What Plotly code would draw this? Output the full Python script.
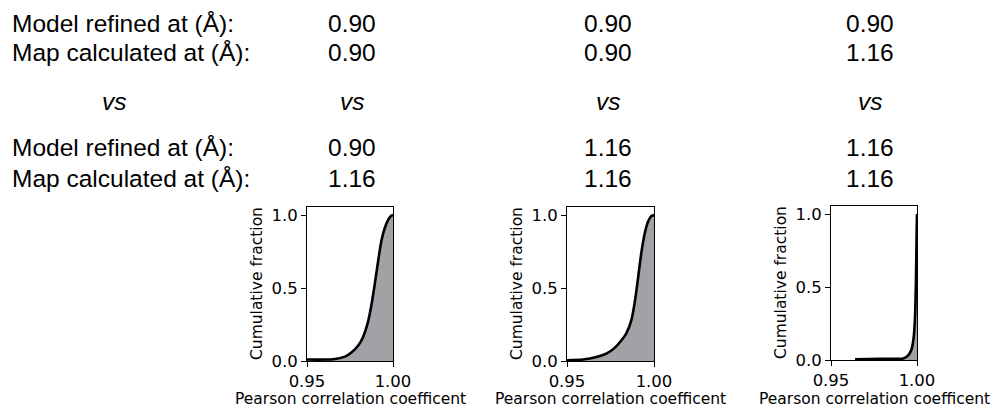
import plotly.graph_objects as go

W, H = 994, 408

# ---- data ----
row_labels = ["Model refined at (Å):", "Map calculated at (Å):", "vs",
              "Model refined at (Å):", "Map calculated at (Å):"]
col_model_a = ["0.90", "0.90", "0.90"]
col_map_a = ["0.90", "0.90", "1.16"]
col_model_b = ["0.90", "1.16", "1.16"]
col_map_b = ["1.16", "1.16", "1.16"]

p1_x = [0.950, 0.965, 0.972, 0.976, 0.980, 0.9826, 0.9855, 0.9874, 0.9893,
        0.9913, 0.9932, 0.9952, 0.9971, 0.9990, 1.000]
p1_y = [0.010, 0.012, 0.030, 0.060, 0.110, 0.165, 0.270, 0.380, 0.520,
        0.680, 0.820, 0.910, 0.965, 0.995, 1.000]

p2_x = [0.950, 0.9592, 0.9669, 0.9726, 0.9774, 0.9812, 0.9841, 0.9870, 0.9889,
        0.9908, 0.9927, 0.9946, 0.9966, 0.9985, 1.000]
p2_y = [0.005, 0.010, 0.027, 0.050, 0.090, 0.140, 0.190, 0.280, 0.400,
        0.565, 0.740, 0.870, 0.955, 0.993, 1.000]

p3_x = [0.964, 0.979, 0.992, 0.995, 0.9967, 0.998, 0.9988, 0.9994, 0.9998, 1.000]
p3_y = [0.005, 0.009, 0.011, 0.034, 0.068, 0.147, 0.280, 0.550, 0.890, 1.000]

panels = [(p1_x, p1_y), (p2_x, p2_y), (p3_x, p3_y)]

x_ticks = [0.95, 1.00]
x_ticktext = ["0.95", "1.00"]
y_ticks = [0.0, 0.5, 1.0]
y_ticktext = ["0.0", "0.5", "1.0"]
x_title = "Pearson correlation coefficent"
y_title = "Cumulative fraction"

# ---- layout geometry (pixels) ----
panel_px = [(307, 393, 207, 361), (567, 654, 207, 361), (831, 917, 206, 360)]
col_cx = [352, 608, 870]
row_cy = [23, 53, 101, 147, 178]

def fx(px):
    return px / W

def fy(py):
    return 1 - py / H

fig = go.Figure()
tick_font = dict(family="DejaVu Sans", size=16.5, color="black")
title_font = dict(family="DejaVu Sans", size=15.5, color="black")

for i, (xs, ys) in enumerate(panels):
    n = "" if i == 0 else str(i + 1)
    fig.add_trace(go.Scatter(
        x=xs, y=ys, mode="lines",
        line=dict(color="black", width=2.6, shape="spline", smoothing=0.6),
        fill="tozeroy", fillcolor="#a1a1a6",
        xaxis="x" + n, yaxis="y" + n, showlegend=False, hoverinfo="skip"))
    x0, x1, y0, y1 = panel_px[i]
    common = dict(showline=True, mirror=True, linecolor="black", linewidth=1,
                  ticks="outside", ticklen=5, tickwidth=1, tickcolor="black",
                  showgrid=False, zeroline=False, tickfont=tick_font,
                  automargin=False)
    fig.update_layout(**{
        "xaxis" + n: dict(domain=[fx(x0), fx(x1)], range=[0.95, 1.0],
                          tickvals=x_ticks, ticktext=x_ticktext,
                          anchor="y" + n, **common),
        "yaxis" + n: dict(domain=[fy(y1), fy(y0)], range=[0, 1.055],
                          tickvals=y_ticks, ticktext=y_ticktext,
                          anchor="x" + n, **common),
    })
    # axis titles
    fig.add_annotation(x=fx((x0 + x1) / 2), y=fy(398.5), xref="paper", yref="paper",
                       text=x_title, showarrow=False, xanchor="center", yanchor="middle",
                       borderpad=0, font=title_font)
    fig.add_annotation(x=fx(x0 - 50), y=fy((y0 + y1) / 2), xref="paper", yref="paper",
                       text=y_title, showarrow=False, textangle=-90,
                       xanchor="center", yanchor="middle", font=title_font)

text_font = dict(family="Liberation Sans, Arial", size=24.5, color="black")
# row labels
for r, lab in enumerate(row_labels):
    if lab == "vs":
        fig.add_annotation(x=fx(114), y=fy(row_cy[r]), xref="paper", yref="paper",
                           text="<i>vs</i>", showarrow=False, xanchor="center",
                           yanchor="middle", font=text_font)
    else:
        fig.add_annotation(x=fx(10), y=fy(row_cy[r]), xref="paper", yref="paper",
                           text=lab, showarrow=False, xanchor="left",
                           yanchor="middle", font=text_font)

cols = [col_model_a, col_map_a, None, col_model_b, col_map_b]
for c in range(3):
    for r in range(5):
        txt = "<i>vs</i>" if cols[r] is None else cols[r][c]
        fig.add_annotation(x=fx(col_cx[c]), y=fy(row_cy[r]), xref="paper", yref="paper",
                           text=txt, showarrow=False, xanchor="center",
                           yanchor="middle", font=text_font)

fig.update_layout(width=W, height=H,
                  margin=dict(l=0, r=0, t=0, b=0, pad=0, autoexpand=False),
                  paper_bgcolor="white", plot_bgcolor="white")

fig.write_html("out.html", include_plotlyjs=True, full_html=True,
               config={"displayModeBar": False})
